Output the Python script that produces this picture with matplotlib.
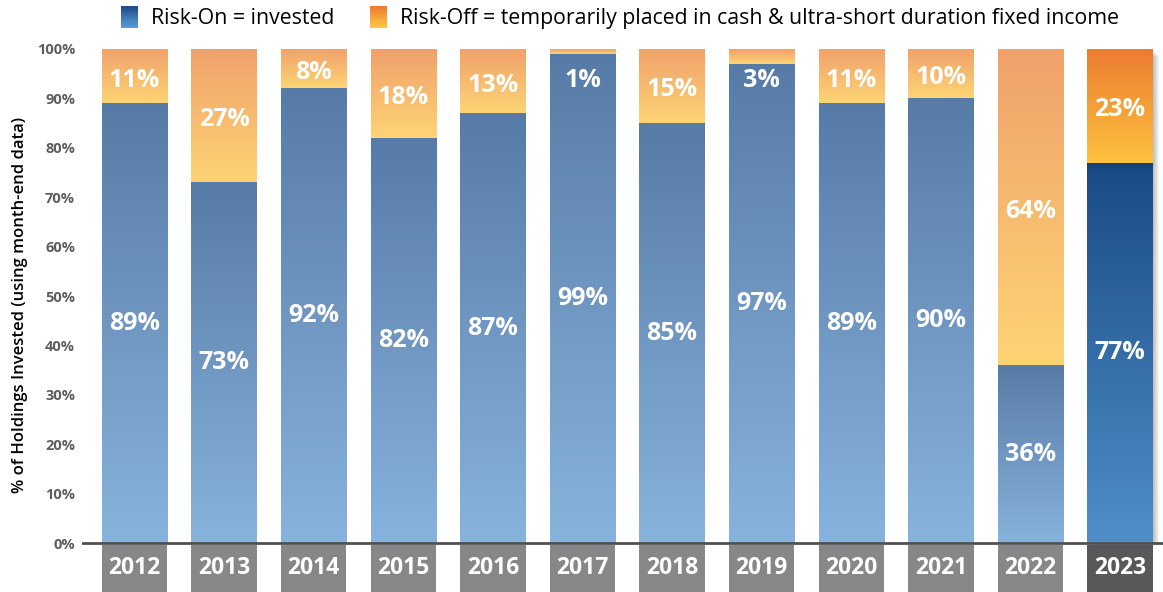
import numpy as np
import matplotlib
matplotlib.use("Agg")
import matplotlib.pyplot as plt
from matplotlib.colors import LinearSegmentedColormap, to_rgb
from matplotlib.patches import Rectangle
from matplotlib.legend_handler import HandlerBase

plt.rcParams['font.family'] = ['Open Sans', 'DejaVu Sans']

years = ['2012', '2013', '2014', '2015', '2016', '2017',
         '2018', '2019', '2020', '2021', '2022', '2023']
risk_on = [89, 73, 92, 82, 87, 99, 85, 97, 89, 90, 36, 77]
risk_off = [11, 27, 8, 18, 13, 1, 15, 3, 11, 10, 64, 23]
yticks = [0, 10, 20, 30, 40, 50, 60, 70, 80, 90, 100]

W, H = 1163, 592
fig = plt.figure(figsize=(W / 100, H / 100), dpi=100)
ax = fig.add_axes([82 / W, 0, 1 - 82 / W, (H - 46) / H])
x = np.arange(len(years))
bw = 0.73


def gradient(patch, top, bottom, z=2):
    x0, y0 = patch.get_x(), patch.get_y()
    w, h = patch.get_width(), patch.get_height()
    cmap = LinearSegmentedColormap.from_list('g', [bottom, top])
    im = ax.imshow(np.linspace(0, 1, 256).reshape(-1, 1), cmap=cmap,
                   origin='lower', extent=[x0, x0 + w, y0, y0 + h],
                   aspect='auto', zorder=z, interpolation='bilinear')
    im.set_clip_path(patch)


# soft shadow to the right of the 2023 bar
for k in range(1, 7):
    ax.add_patch(Rectangle((x[-1] - bw / 2 + k * 0.012, -0.4), bw, 100.4 - k * 0.25,
                           color='black', alpha=0.045, lw=0, zorder=1))

b_on = ax.bar(x, risk_on, width=bw, color='none', lw=0, zorder=2)
b_off = ax.bar(x, risk_off, bottom=risk_on, width=bw, color='none', lw=0, zorder=2)

for i in range(len(years)):
    if years[i] == '2023':
        gradient(b_on[i], '#1a4a85', '#4f8fca')
        gradient(b_off[i], '#ec7c30', '#fdc23f')
    else:
        gradient(b_on[i], '#577ba7', '#87b3dc')
        gradient(b_off[i], '#f0a16b', '#fdd474')

# dark edge under the orange segment of 2023
for k in range(5):
    ax.add_patch(Rectangle((x[-1] - bw / 2, risk_on[-1] - 0.3 * (k + 1)), bw, 0.3,
                           color='black', alpha=0.12 - k * 0.02, lw=0, zorder=3))

# value labels
for i in range(len(years)):
    ax.text(x[i], risk_on[i] / 2, f'{risk_on[i]}%', ha='center', va='center',
            color='white', fontsize=18, fontweight='bold', zorder=5)
    ytop = risk_on[i] + risk_off[i] / 2 if risk_off[i] >= 5 else 94.5
    ax.text(x[i], ytop - 0.8, f'{risk_off[i]}%', ha='center', va='center',
            color='white', fontsize=18, fontweight='bold', zorder=5)

# year boxes under the axis
box_colors = ['#58585a' if y == '2023' else '#87878a' for y in years]
ax.bar(x, -9.6, bottom=-0.45, width=bw, color=box_colors, lw=0, zorder=2)
for i in range(len(years)):
    ax.text(x[i], -5.0, years[i], ha='center', va='center', color='white',
            fontsize=16.5, fontweight='bold', zorder=5)

ax.hlines(0, -0.6, 11.6, color='#505050', lw=2, zorder=4)

ax.set_xlim(-0.586, 11.48)
ax.set_ylim(-9.9, 100.6)
ax.set_xticks([])
ax.set_yticks(yticks)
ax.set_yticklabels([f'{t}%' for t in yticks], color='#5e5e5e',
                   fontsize=10.5, fontweight='bold')
ax.tick_params(axis='y', length=0, pad=5)
for s in ax.spines.values():
    s.set_visible(False)

fig.text(20 / W, 1 - 305 / H, '% of Holdings Invested (using month-end data)',
         rotation=90, ha='center', va='center', fontsize=12, fontweight='semibold')


# legend with gradient squares
class GradKey:
    def __init__(self, top, bottom):
        self.top, self.bottom = top, bottom


class GradHandler(HandlerBase):
    def create_artists(self, legend, orig, xd, yd, width, height, fontsize, trans):
        n = 20
        c1, c2 = np.array(to_rgb(orig.top)), np.array(to_rgb(orig.bottom))
        arts = []
        for j in range(n):
            c = c2 + (c1 - c2) * j / (n - 1)
            arts.append(Rectangle((-xd, -yd + height * j / n), width, height / n + 0.3,
                                  facecolor=c, lw=0, transform=trans))
        return arts


handles = [GradKey('#1f4e8c', '#5b9bd6'), GradKey('#ee7d31', '#fec73f')]
labels = ['Risk-On = invested',
          'Risk-Off = temporarily placed in cash & ultra-short duration fixed income']
fig.legend(handles, labels, handler_map={GradKey: GradHandler()},
           loc='center', bbox_to_anchor=(620 / W, 1 - 18 / H), ncol=2,
           frameon=False, fontsize=15.3, handlelength=0.78, handleheight=1.15,
           handletextpad=0.6, columnspacing=1.7)

fig.savefig('out.png', dpi=100)
